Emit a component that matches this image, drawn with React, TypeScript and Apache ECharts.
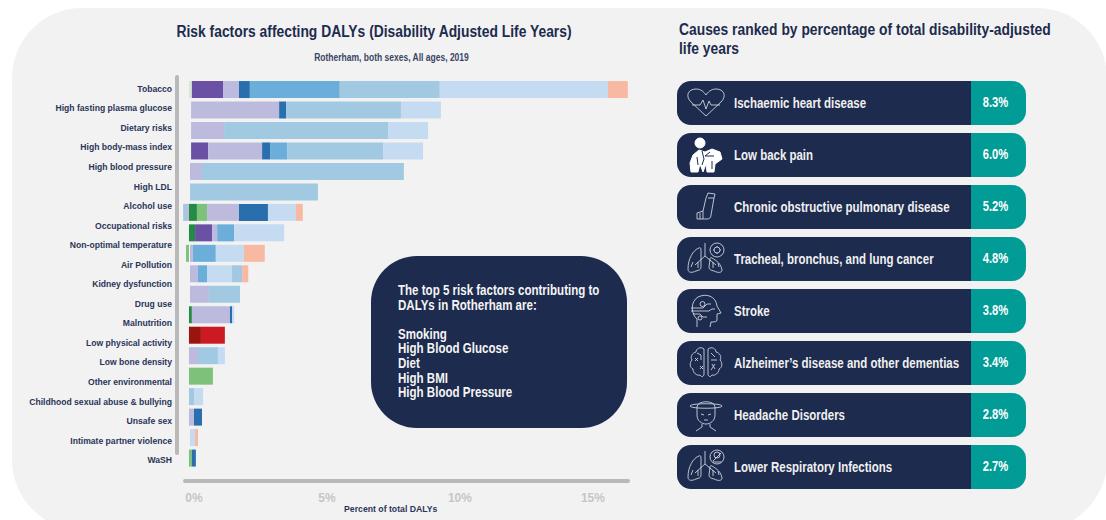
import React, { useEffect, useRef } from "react";
import * as echarts from "echarts";

const labelList = ["Tobacco","High fasting plasma glucose","Dietary risks","High body-mass index","High blood pressure","High LDL","Alcohol use","Occupational risks","Non-optimal temperature","Air Pollution","Kidney dysfunction","Drug use","Malnutrition","Low physical activity","Low bone density","Other environmental","Childhood sexual abuse & bullying","Unsafe sex","Intimate partner violence","WaSH"];
const barCategories = ["Tobacco","High fasting plasma glucose","Dietary risks","High body-mass index","High blood pressure","High LDL","Alcohol use","Occupational risks","Non-optimal temperature","Air Pollution","Kidney dysfunction","Drug use","Malnutrition","Low physical activity","Low bone density","Childhood sexual abuse & bullying","Unsafe sex","Intimate partner violence","WaSH"];

const gapVals =      [0,.08,.08,.08,.04,.04,0,0,.04,.04,.04,0,0,0,0,0,0,.04,0];
const paleGreen =    [.11,0,0,0,0,0,0,0,0,0,0,0,0,0,0,0,0,0,0];
const darkGreen =    [0,0,0,0,0,0,.30,.23,0,0,0,.11,0,0,0,0,0,0,0];
const midGreen =     [0,0,0,0,0,0,.38,0,-.11,0,0,0,0,0,.90,0,0,0,.11];
const darkPurple =   [1.17,0,0,.64,0,0,0,.64,0,0,0,0,0,0,0,0,0,0,0];
const lavender =     [.60,3.31,1.24,2.03,.45,0,1.20,.19,.11,.30,.71,1.43,0,.34,0,0,.19,0,0];
const lavenderNeg =  [0,0,0,0,0,0,-.11,0,0,0,0,0,0,0,0,0,0,0,0];
const darkBlue =     [.41,.26,0,.30,0,0,1.09,0,0,0,0,.08,0,0,0,0,.30,0,.15];
const midBlue =      [3.38,0,0,.64,0,0,0,.64,.86,.34,0,0,0,0,0,0,0,0,0];
const lightBlue =    [3.76,4.32,6.17,3.61,7.59,4.81,0,0,0,0,1.17,0,0,.75,0,.19,0,0,0];
const lightBlueNeg = [0,0,0,0,0,0,-.11,0,0,0,0,0,0,0,0,0,0,0,0];
const paleBlue =     [6.32,1.50,1.50,1.50,0,0,1.05,1.88,1.05,.94,0,.08,0,.26,0,.34,0,.19,0];
const lightBlueEnd = [0,0,0,0,0,0,0,0,0,.38,0,0,0,0,0,0,0,0,0];
const peach =        [.75,0,0,0,0,0,.26,0,.79,.23,0,0,0,0,0,0,0,.11,0];
const darkRed =      [0,0,0,0,0,0,0,0,0,0,0,0,.45,0,0,0,0,0,0];
const red =          [0,0,0,0,0,0,0,0,0,0,0,0,.90,0,0,0,0,0,0];

const xTicks = [0, 5, 10, 15];

const causes = ["Ischaemic heart disease","Low back pain","Chronic obstructive pulmonary disease","Tracheal, bronchus, and lung cancer","Stroke","Alzheimer\u2019s disease and other dementias","Headache Disorders","Lower Respiratory Infections"];
const causeShares = ["8.3%","6.0%","5.2%","4.8%","3.8%","3.4%","2.8%","2.7%"];
const insightLines = ["The top 5 risk factors contributing to","DALYs in Rotherham are:","","Smoking","High Blood Glucose","Diet","High BMI","High Blood Pressure"];
const rightTitleLines = ["Causes ranked by percentage of total disability-adjusted","life years"];

const NAVY = "#1d2b4e";
const TEAL = "#009c95";
const FONT = "'Liberation Sans', Arial, sans-serif";

const lungs = "M-7 -11 C-13 -9 -18 0 -18 10 C-18 14 -14 14 -10 12 C-7 11 -5 11 -5 8 L-5 -9 C-5 -11 -6 -12 -7 -11 Z M4 0 C4 -1 5 -2 6 -1 C11 2 15 5 16 11 C16 14 12 14 8 12 C5 11 3 11 3 8 Z M-1 -16 L-1 -3 L-11 6 M-1 -3 L10 6 M-13 3 L-15 8 M-8 3 L-8 9 M7 3 L7 9 M12 4 L13 8 ";
const iconPaths: Record<string, string> = {
  iconHeart: "M0 13 L-15 -1 C-21 -7 -18 -14 -10 -14 C-5 -14 -2 -11 0 -8 C2 -11 5 -14 10 -14 C18 -14 21 -7 15 -1 Z M-14 2 L-6 2 L-3 -3 L0 6 L3 -2 L5 2 L14 2",
  iconBack: "M-6 -17 A5 5 0 1 1 -6 -7 A5 5 0 1 1 -6 -17 Z M-15 17 L-16 8 L-13 0 L-7 -5 L-1 -3 L6 -6 L14 -3 L16 4 L9 9 L8 17 L1 17 L0 9 L-3 17 L-6 9 L-8 17 Z",
  iconBackDetail: "M-4 -4 L-2 4 L-4 10 M4 -3 L-1 1 L8 1 M-9 2 L-8 10 M6 6 L6 14",
  iconInhaler: "M2 -14 L9 -13 L8 -9 L5 8 C5 11 3 12 1 12 L-9 12 L-9 6 L-3 4 L0 -9 Z M2 -9 L8 -9 M-6 6 L-6 12 M-3 4 L-3 12",
  iconLungCancer: lungs + "M4 -9 A7 7 0 1 1 18 -9 A7 7 0 1 1 4 -9 Z M8 -9 A3 3 0 1 1 14 -9 A3 3 0 1 1 8 -9 Z M11 -13 L11 -12 M11 -6 L11 -5 M7 -9 L8 -9 M14 -9 L15 -9",
  iconStroke: "M-9 16 L-9 8 C-15 3 -16 -9 -8 -14 C0 -18 10 -15 11 -5 L15 2 L11 3 L11 9 C11 11 8 11 5 11 L4 16 M-15 -3 L-3 -3 L1 -7 L5 -7 M-15 0 L3 0 L6 -2 L9 -2 M-13 3 L-6 3 L-3 6 L1 6 M-6 -7 A2.5 2.5 0 1 1 -1 -7 A2.5 2.5 0 1 1 -6 -7 Z M-8 7 A2 2 0 1 1 -4 7 A2 2 0 1 1 -8 7 Z",
  iconBrain: "M-2 -14 C-6 -17 -10 -14 -10 -11 C-14 -10 -16 -6 -14 -3 C-17 0 -16 5 -13 6 C-13 10 -9 13 -6 12 C-4 15 -2 13 -2 11 Z M2 -14 C6 -17 10 -14 10 -11 C14 -10 16 -6 14 -3 C17 0 16 5 13 6 C13 10 9 13 6 12 C4 15 2 13 2 11 Z M-11 -5 L-8 -2 M-8 -5 L-11 -2 M-6 3 L-3 6 M-3 3 L-6 6 M-9 -10 L-5 -8 L-5 -3 M5 -10 L9 -6 M5 -3 L11 -3 M6 1 L9 6 M9 1 L5 7",
  iconHeadache: "M-16 -9 C-16 -12 16 -12 16 -9 C16 -6 -16 -6 -16 -9 Z M-9 -8 C-9 -15 9 -15 9 -8 L9 0 C9 6 4 9 0 9 C-4 9 -9 6 -9 0 Z M-4 9 L-4 12 L-10 16 M4 9 L4 12 L10 16 M-5 -1 L-2 0 M5 -1 L2 0 M-2 5 L2 5",
  iconLungInfection: lungs + "M4 -10 A7 7 0 1 1 18 -10 A7 7 0 1 1 4 -10 Z M8 -12 A3 3 0 1 1 14 -12 A3 3 0 1 1 8 -12 Z M7 -6 L15 -14 M7 -5 L15 -5",
};
const iconOrder = ["iconHeart","iconBack","iconInhaler","iconLungCancer","iconStroke","iconBrain","iconHeadache","iconLungInfection"];
Object.keys(iconPaths).forEach((k) => {
  echarts.graphic.registerShape(k, echarts.graphic.extendPath(iconPaths[k], {}));
});

function narrowText(text: string, x: number, y: number, size: number, fill: string, align: string, scale: number, z = 6) {
  return { type: "text", z, x, y, scaleX: scale, style: { text, fill, font: `bold ${size}px ${FONT}`, verticalAlign: "middle", align } };
}

function buildGraphics() {
  const els: any[] = [];
  els.push({ type: "rect", z: -5, shape: { x: 12, y: 8, width: 1095, height: 522, r: 70 }, style: { fill: "#f2f2f2" } });
  // axis rails
  els.push({ type: "rect", z: 1, shape: { x: 175, y: 75, width: 4, height: 380, r: 2 }, style: { fill: "#b9b9b9" } });
  els.push({ type: "rect", z: 1, shape: { x: 183, y: 479, width: 447, height: 4, r: 2 }, style: { fill: "#b9b9b9" } });
  // headings
  els.push(narrowText("Risk factors affecting DALYs (Disability Adjusted Life Years)", 374, 30.5, 17, NAVY, "center", 0.815));
  els.push(narrowText("Rotherham, both sexes, All ages, 2019", 391.5, 57, 10.5, "#3a4666", "center", 0.81));
  rightTitleLines.forEach((line, i) => els.push(narrowText(line, 679, 28.5 + i * 19.5, 17, NAVY, "left", 0.815)));
  // insight box
  els.push({ type: "rect", z: 5, shape: { x: 371, y: 256, width: 256, height: 172, r: 46 }, style: { fill: NAVY } });
  insightLines.forEach((line, i) => {
    els.push(narrowText(line, 398, 290 + i * 14.6, 14, "#f4f4f4", "left", 0.825));
  });
  // cause cards
  causes.forEach((cause, i) => {
    const top = 81 + i * 52;
    const mid = top + 22;
    els.push({ type: "rect", z: 5, shape: { x: 677, y: top, width: 294, height: 44, r: [14, 0, 0, 14] }, style: { fill: NAVY } });
    els.push({ type: "rect", z: 5, shape: { x: 971, y: top, width: 55, height: 44, r: [0, 14, 14, 0] }, style: { fill: TEAL } });
    const name = iconOrder[i];
    els.push({ type: name, z: 6, x: 706, y: mid, style: name === "iconBack" ? { fill: "#ffffff", stroke: "#ffffff", lineWidth: 1 } : { fill: "none", stroke: "#e4e7ee", lineWidth: 0.8 } });
    if (name === "iconBack") {
      els.push({ type: "iconBackDetail", z: 7, x: 706, y: mid, style: { fill: "none", stroke: NAVY, lineWidth: 1 } });
    }
    els.push(narrowText(cause, 734, mid, 14, "#f0f0f0", "left", 0.82));
    els.push(narrowText(causeShares[i], 995.5, mid, 14, "#ffffff", "center", 0.8));
  });
  return els;
}

function bar(name: string, data: number[], color: string) {
  return { name, type: "bar", stack: "dalys", yAxisIndex: 0, xAxisIndex: 0, data, barWidth: 17, itemStyle: { color }, emphasis: { disabled: true } };
}

export default function App() {
  const ref = useRef<HTMLDivElement>(null);
  useEffect(() => {
    document.body.style.margin = "0";
    const chart = echarts.init(ref.current!, undefined, { renderer: "svg" });
    chart.setOption({
      animation: false,
      backgroundColor: "#ffffff",
      textStyle: { fontFamily: FONT },
      grid: [
        { left: 173, top: 79.3, width: 457.5, height: 389, outerBoundsMode: "none" },
        { left: 173, top: 79, width: 457.5, height: 391, outerBoundsMode: "none" },
      ],
      xAxis: [
        {
          type: "value", gridIndex: 0, min: -0.6, max: 16.6,
          splitLine: { show: false }, axisLine: { show: false }, axisTick: { show: false },
          axisLabel: { customValues: xTicks, formatter: (v: number) => `${v}%`, color: "#c6c6c6", fontSize: 12, fontWeight: "bold", margin: 24, padding: [0, 0, 0, 10], fontFamily: FONT },
          name: "Percent of total DALYs", nameLocation: "middle", nameGap: 36, nameMoveOverlap: false,
          nameTextStyle: { color: "#2a3558", fontSize: 8.7, fontWeight: "bold", padding: [0, 22, 0, 0], fontFamily: FONT },
        },
        { type: "value", gridIndex: 1, show: false, min: 0, max: 1 },
      ],
      yAxis: [
        { type: "category", gridIndex: 0, data: barCategories, inverse: true, position: "left", axisLine: { show: false }, axisTick: { show: false }, axisLabel: { show: false } },
        { type: "category", gridIndex: 1, data: labelList, inverse: true, position: "left", axisLine: { show: false }, axisTick: { show: false },
          axisLabel: { interval: 0, margin: 1, color: "#2a3558", fontSize: 8.6, fontWeight: "bold", align: "right", fontFamily: FONT } },
      ],
      series: [
        bar("Offset", gapVals, "transparent"),
        bar("Pale green", paleGreen, "#d6e8d6"),
        bar("Dark green", darkGreen, "#238b45"),
        bar("Mid green", midGreen, "#7dc17a"),
        bar("Dark purple", darkPurple, "#6a51a3"),
        bar("Lavender", lavender, "#bcbbdd"),
        bar("Lavender negative", lavenderNeg, "#bcbbdd"),
        bar("Dark blue", darkBlue, "#2a6fad"),
        bar("Mid blue", midBlue, "#6baed9"),
        bar("Light blue", lightBlue, "#a1c9e2"),
        bar("Light blue negative", lightBlueNeg, "#a1c9e2"),
        bar("Pale blue", paleBlue, "#c5dbf1"),
        bar("Light blue end", lightBlueEnd, "#a1c9e2"),
        bar("Peach", peach, "#f8b9a2"),
        bar("Dark red", darkRed, "#9b1510"),
        bar("Red", red, "#cb1a22"),
      ],
      graphic: { elements: buildGraphics() },
    });
    return () => chart.dispose();
  }, []);
  return <div ref={ref} style={{ position: "fixed", left: 0, top: 0, width: 1106, height: 520 }} />;
}
